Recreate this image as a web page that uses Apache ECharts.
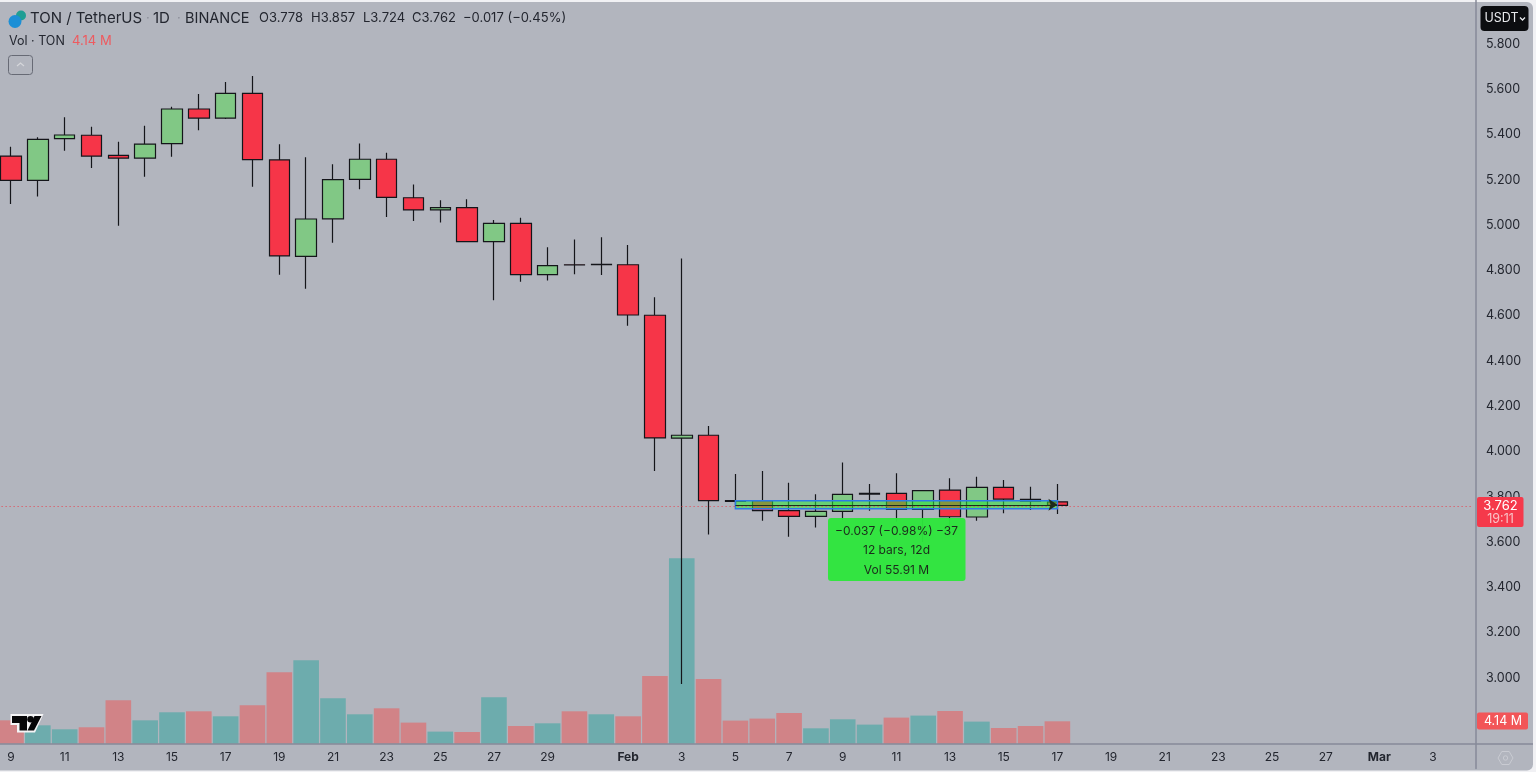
<!DOCTYPE html>
<html>
<head>
<meta charset="utf-8">
<title>TON / TetherUS</title>
<script src="https://cdn.jsdelivr.net/npm/echarts@6/dist/echarts.min.js"></script>
<style>
html, body { margin: 0; padding: 0; background: #f1f1f4; }
#main { width: 1536px; height: 772px; }
</style>
</head>
<body>
<div id="main"></div>
<script>
var categories = [
    'Jan 9','Jan 10','Jan 11','Jan 12','Jan 13','Jan 14','Jan 15','Jan 16','Jan 17','Jan 18','Jan 19','Jan 20',
    'Jan 21','Jan 22','Jan 23','Jan 24','Jan 25','Jan 26','Jan 27','Jan 28','Jan 29','Jan 30','Jan 31',
    'Feb 1','Feb 2','Feb 3','Feb 4','Feb 5','Feb 6','Feb 7','Feb 8','Feb 9','Feb 10','Feb 11','Feb 12','Feb 13','Feb 14',
    'Feb 15','Feb 16','Feb 17','Feb 18','Feb 19','Feb 20','Feb 21','Feb 22','Feb 23','Feb 24','Feb 25','Feb 26','Feb 27','Feb 28',
    'Mar 1','Mar 2','Mar 3','Mar 4'
];
var tickLabels = [
    '9','','11','','13','','15','','17','','19','','21','','23','','25','','27','','29','','',
    'Feb','','3','','5','','7','','9','','11','','13','','15','','17','','19','','21','','23','','25','','27','',
    'Mar','','3',''
];
var openVals = [5.305,5.198,5.382,5.397,5.308,5.296,5.360,5.513,5.473,5.582,5.288,4.862,5.028,5.202,5.291,5.121,5.067,5.077,4.927,5.008,4.781,4.825,4.826,
    4.825,4.602,4.059,4.072,3.783,3.783,3.739,3.714,3.736,3.812,3.815,3.745,3.830,3.711,3.842,3.789,3.778];
var closeVals = [5.198,5.379,5.398,5.305,5.296,5.358,5.513,5.473,5.582,5.289,4.864,5.027,5.201,5.291,5.123,5.067,5.077,4.927,5.008,4.781,4.821,4.824,4.827,
    4.603,4.060,4.072,3.783,3.780,3.739,3.714,3.736,3.811,3.815,3.745,3.827,3.712,3.842,3.790,3.781,3.762];
var lowVals = [5.093,5.126,5.329,5.252,4.997,5.214,5.302,5.419,5.469,5.170,4.781,4.719,4.922,5.158,5.036,5.018,5.012,4.927,4.668,4.750,4.756,4.783,4.780,
    4.556,3.914,2.973,3.634,3.764,3.694,3.624,3.664,3.698,3.739,3.690,3.600,3.662,3.694,3.727,3.742,3.724];
var highVals = [5.346,5.388,5.476,5.435,5.368,5.439,5.523,5.579,5.632,5.659,5.357,5.300,5.269,5.361,5.320,5.180,5.110,5.114,5.023,5.033,4.902,4.937,4.946,
    4.912,4.681,4.853,4.113,3.901,3.914,3.862,3.811,3.952,3.857,3.904,3.827,3.882,3.889,3.874,3.845,3.857];
var volumes = [4.32,3.40,2.67,3.04,8.00,4.32,5.80,5.98,5.06,7.08,13.16,15.36,8.37,5.43,6.53,3.90,2.24,2.17,8.56,3.28,3.77,5.98,5.43,
    5.06,12.48,34.13,11.92,4.27,4.64,5.67,2.85,4.51,3.53,4.82,5.19,6.04,4.08,2.91,3.28,4.14];

var lastClose = 3.762;
var measureTop = 3.783;
var measureBottom = 3.747;
var measureMid = 3.765;

var candleData = [];
var volumeData = [];
for (var i = 0; i < openVals.length; i++) {
    candleData.push([openVals[i], closeVals[i], lowVals[i], highVals[i]]);
    volumeData.push({
        value: volumes[i],
        itemStyle: { color: closeVals[i] < openVals[i] ? '#d18387' : '#6dacad' }
    });
}

var font = 'Inter, Roboto, sans-serif';
var ink = '#23262f';

function txt(x, y, s, size, color, align, weight) {
    return {
        type: 'text', z: 110, silent: true, x: x, y: y,
        style: { text: s, fontFamily: font, fontSize: size, fill: color || ink, align: align || 'left', verticalAlign: 'middle', fontWeight: weight || 400 }
    };
}

var myChart = echarts.init(document.getElementById('main'), null, { renderer: 'canvas' });

var graphics = [
    // panel
    { type: 'rect', z: -1, silent: true, shape: { x: -6, y: 2, width: 1539, height: 768.5, r: 6 }, style: { fill: '#b2b5be' } },
    { type: 'line', z: 60, silent: true, shape: { x1: 0, y1: 744, x2: 1533, y2: 744 }, style: { stroke: '#868a99', lineWidth: 1.5 } },

    // header
    { type: 'circle', z: 110, silent: true, shape: { cx: 21, cy: 15.5, r: 5 }, style: { fill: '#1f9e94' } },
    { type: 'circle', z: 111, silent: true, shape: { cx: 15, cy: 21.5, r: 6.5 }, style: { fill: '#1c8fd6' } },
    txt(30, 18.5, 'TON / TetherUS', 15),
    txt(146, 18.5, '·', 13, '#8a8d98'),
    txt(153, 18.5, '1D', 15),
    txt(177, 18.5, '·', 13, '#8a8d98'),
    txt(185, 18.5, 'BINANCE', 14.5),
    txt(259, 18.5, 'O3.778', 13),
    txt(311, 18.5, 'H3.857', 13),
    txt(363, 18.5, 'L3.724', 13),
    txt(412, 18.5, 'C3.762', 13),
    txt(463, 18.5, '−0.017 (−0.45%)', 13),
    txt(9, 41.5, 'Vol · TON', 12.5),
    txt(72, 41.5, '4.14 M', 13, '#ee5a5f'),
    { type: 'rect', z: 110, silent: true, shape: { x: 8.5, y: 55.5, width: 24, height: 19, r: 3 }, style: { fill: 'none', stroke: '#676a75', lineWidth: 1 } },
    { type: 'polyline', z: 110, silent: true, shape: { points: [[17, 66], [20.5, 63], [24, 66]] }, style: { fill: 'none', stroke: '#d5d6da', lineWidth: 1.2 } },

    // measure label
    { type: 'rect', z: 100, silent: true, shape: { x: 828, y: 518, width: 137.5, height: 63, r: 3 }, style: { fill: 'rgba(46,230,59,0.96)' } },
    txt(896.5, 531, '−0.037 (−0.98%) −37', 12, '#1c2b1c', 'center'),
    txt(896.5, 550.5, '12 bars, 12d', 12, '#1c2b1c', 'center'),
    txt(896.5, 570, 'Vol 55.91 M', 12, '#1c2b1c', 'center'),

    // right scale tags
    { type: 'rect', z: 100, silent: true, shape: { x: 1480.5, y: 6, width: 48, height: 25, r: 4 }, style: { fill: '#0c0d10' } },
    txt(1484.5, 18.5, 'USDT', 12.5, '#e8e9ec'),
    { type: 'polyline', z: 110, silent: true, shape: { points: [[1520, 17.5], [1522.5, 20], [1525, 17.5]] }, style: { fill: 'none', stroke: '#e8e9ec', lineWidth: 1.3 } },
    { type: 'rect', z: 100, silent: true, shape: { x: 1477, y: 497, width: 46.5, height: 30, r: 2 }, style: { fill: '#f5394b' } },
    txt(1500.5, 506, '3.762', 13, '#fff', 'center'),
    txt(1500.5, 519.5, '19:11', 12.5, '#f9c2c6', 'center'),
    { type: 'rect', z: 100, silent: true, shape: { x: 1477, y: 712.5, width: 51, height: 17, r: 2 }, style: { fill: '#f25558' } },
    txt(1503, 721.3, '4.14 M', 12.5, '#fff', 'center'),

    // settings icon
    { type: 'polygon', z: 110, silent: true, shape: { points: [[1498, 758], [1501.8, 751.5], [1509.2, 751.5], [1513, 758], [1509.2, 764.5], [1501.8, 764.5]] }, style: { fill: 'none', stroke: '#c9cbd2', lineWidth: 1 } },
    { type: 'circle', z: 110, silent: true, shape: { cx: 1505.5, cy: 758, r: 2.2 }, style: { fill: 'none', stroke: '#c9cbd2', lineWidth: 1 } },

    // logo
    { type: 'polygon', z: 109, silent: true, shape: { points: [[10.5, 714], [43.5, 714], [35, 732.5], [17, 732.5], [17, 725], [10.5, 725]] }, style: { fill: '#f4f4f6' } },
    { type: 'polygon', z: 110, silent: true, shape: { points: [[12, 716], [27, 716], [27, 730.5], [19.5, 730.5], [19.5, 723], [12, 723]] }, style: { fill: '#060608' } },
    { type: 'circle', z: 110, silent: true, shape: { cx: 30.5, cy: 719.3, r: 3.3 }, style: { fill: '#060608' } },
    { type: 'polygon', z: 110, silent: true, shape: { points: [[34.5, 716], [41.5, 716], [34, 730.5], [27.5, 730.5]] }, style: { fill: '#060608' } }
];

var option = {
    animation: false,
    backgroundColor: 'transparent',
    graphic: { elements: graphics },
    grid: [
        // the axes start just off the canvas, so keep ECharts from pulling them back in
        { left: -2.4, width: 1475.65, top: -1.28, height: 769.8, outerBoundsMode: 'none' },
        { left: -2.4, width: 1475.65, top: 526.4, height: 217.4, outerBoundsMode: 'none' }
    ],
    xAxis: [
        { type: 'category', gridIndex: 0, data: categories, show: false, boundaryGap: true },
        {
            type: 'category', gridIndex: 1, data: categories, boundaryGap: true,
            axisLine: { show: false },
            axisTick: { show: false },
            axisLabel: {
                margin: 8,
                color: ink,
                fontFamily: font,
                fontSize: 12,
                interval: function (index) { return tickLabels[index] !== ''; },
                formatter: function (value, index) {
                    var s = tickLabels[index];
                    return (s === 'Feb' || s === 'Mar') ? '{b|' + s + '}' : s;
                },
                rich: { b: { fontFamily: font, fontSize: 12, fontWeight: 700, color: ink } }
            }
        }
    ],
    yAxis: [
        {
            type: 'value', gridIndex: 0, position: 'right', offset: 2.8,
            min: 2.6, max: 6.0, interval: 0.2,
            splitLine: { show: false },
            axisTick: { show: false },
            axisLine: { show: true, lineStyle: { color: '#868a99', width: 1.5 } },
            axisLabel: {
                margin: 10,
                color: ink,
                fontFamily: font,
                fontSize: 12.5,
                formatter: function (v) {
                    if (v > 5.85 || v < 2.95) return '';
                    return v.toFixed(3);
                }
            }
        },
        { type: 'value', gridIndex: 1, min: 0, max: 40, show: false }
    ],
    series: [
        {
            name: 'Vol', type: 'bar', xAxisIndex: 1, yAxisIndex: 1, z: 1,
            barWidth: 25.6, data: volumeData, silent: true
        },
        {
            name: 'TON', type: 'candlestick', xAxisIndex: 0, yAxisIndex: 0, z: 3,
            barWidth: 21,
            data: candleData,
            silent: true,
            itemStyle: {
                color: '#81c885', color0: '#f63548',
                borderColor: '#14151a', borderColor0: '#14151a', borderColorDoji: '#14151a',
                borderWidth: 1.2
            },
            markArea: {
                silent: true, z: 5,
                itemStyle: { color: 'rgba(42,232,52,0.55)', borderColor: '#2e7ae6', borderWidth: 1.5 },
                data: [[
                    { xAxis: 'Feb 5', yAxis: measureTop },
                    { xAxis: 'Feb 17', yAxis: measureBottom }
                ]]
            },
            markLine: {
                silent: true, z: 6,
                symbol: 'none',
                label: { show: false },
                data: [
                    { yAxis: lastClose, lineStyle: { color: '#e8404f', type: [1, 3], width: 1 } },
                    [
                        { coord: ['Feb 5', measureMid], symbol: 'none', lineStyle: { color: '#1c2b1c', type: 'solid', width: 1 } },
                        { coord: ['Feb 17', measureMid], symbol: 'arrow', symbolSize: 9 }
                    ]
                ]
            }
        }
    ]
};
myChart.setOption(option);
</script>
</body>
</html>
